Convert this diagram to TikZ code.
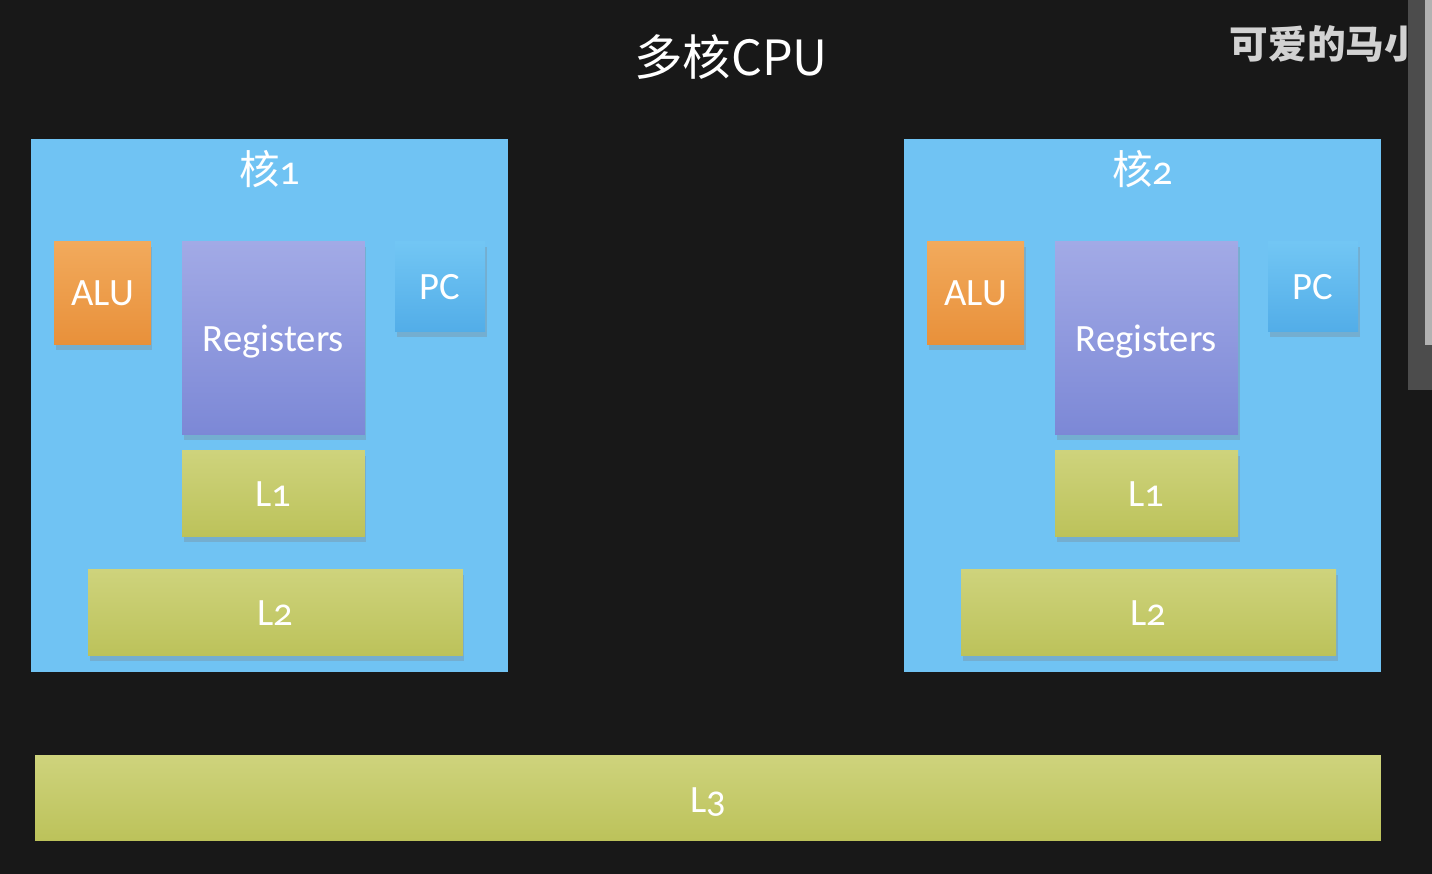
\documentclass[tikz,border=0pt]{standalone}
\usepackage{fontspec}
\setmainfont[Numbers=OldStyle]{Carlito}
\newfontfamily\cjk{Noto Sans CJK SC}
\usetikzlibrary{shadows}

\definecolor{board}{HTML}{181818}
\definecolor{coreblue}{HTML}{70C3F3}
\definecolor{alutop}{HTML}{F2AA5C}
\definecolor{alubot}{HTML}{E8903A}
\definecolor{regtop}{HTML}{A2AAE6}
\definecolor{regbot}{HTML}{7C88D6}
\definecolor{pctop}{HTML}{72C6F4}
\definecolor{pcbot}{HTML}{52ADE8}
\definecolor{cachetop}{HTML}{CED37C}
\definecolor{cachebot}{HTML}{BCC25A}

\begin{document}
\begin{tikzpicture}[x=0.1mm, y=-0.1mm,
    core/.style={fill=coreblue, minimum width=4.77cm, minimum height=5.33cm, inner sep=0pt},
    part/.style={inner sep=0pt, text=white, font=\fontsize{11}{13}\selectfont},
    shade/.style={drop shadow={opacity=0.3, shadow xshift=0.15mm, shadow yshift=-0.5mm}},
    alubox/.style={part, shade, top color=alutop, bottom color=alubot, minimum width=0.97cm, minimum height=1.03cm},
    regbox/.style={part, shade, top color=regtop, bottom color=regbot, minimum width=1.83cm, minimum height=1.93cm},
    pcbox/.style={part, shade, top color=pctop, bottom color=pcbot, minimum width=0.90cm, minimum height=0.90cm},
    cachebox/.style={part, top color=cachetop, bottom color=cachebot, minimum height=0.86cm}]
        % \draw[help lines, gray!50, very thin] (0,0) grid[step=100] (1432,874);

        \fill[board] (0,0) rectangle (1432,874);
        \useasboundingbox (0,0) rectangle (1432,874);

        \node[text=white, font=\cjk\fontsize{13.8}{16}\selectfont] (title) at (731,57) {多核CPU};

        \foreach \dx/\n in {0/1, 873/2} {
          \node[core] (core\n) at (269.5+\dx,405.5) {};
          \node[text=white, font=\fontsize{11.5}{13}\selectfont] (name\n) at (270+\dx,169) {{\cjk 核}\n};

          \node[alubox] (alu\n) at (102.5+\dx,293.5) {ALU};
          \node[regbox, text depth=0pt] (reg\n) at (273.5+\dx,338.5) {Registers};
          \node[pcbox] (pc\n) at (440+\dx,287) {PC};

          \node[cachebox, shade, minimum width=1.83cm] (lone\n) at (273.5+\dx,494) {L1};
          \node[cachebox, shade, minimum width=3.75cm] (ltwo\n) at (275.5+\dx,613) {L2};
        }

        \node[cachebox, minimum width=13.46cm, minimum height=0.85cm, text height=3.4mm, text depth=0.5mm] (lthree) at (708,798.5) {L3};

        % corner of the recording
        \node[anchor=base west, inner sep=0pt, text=gray!35, font=\cjk\bfseries\fontsize{11}{12}\selectfont] (mark) at (1229,59) {可爱的马小};
        \fill[black!70] (1408,0) rectangle (1432,390);
        \fill[gray!60] (1425,0) rectangle (1432,345);
      \end{tikzpicture}
\end{document}
